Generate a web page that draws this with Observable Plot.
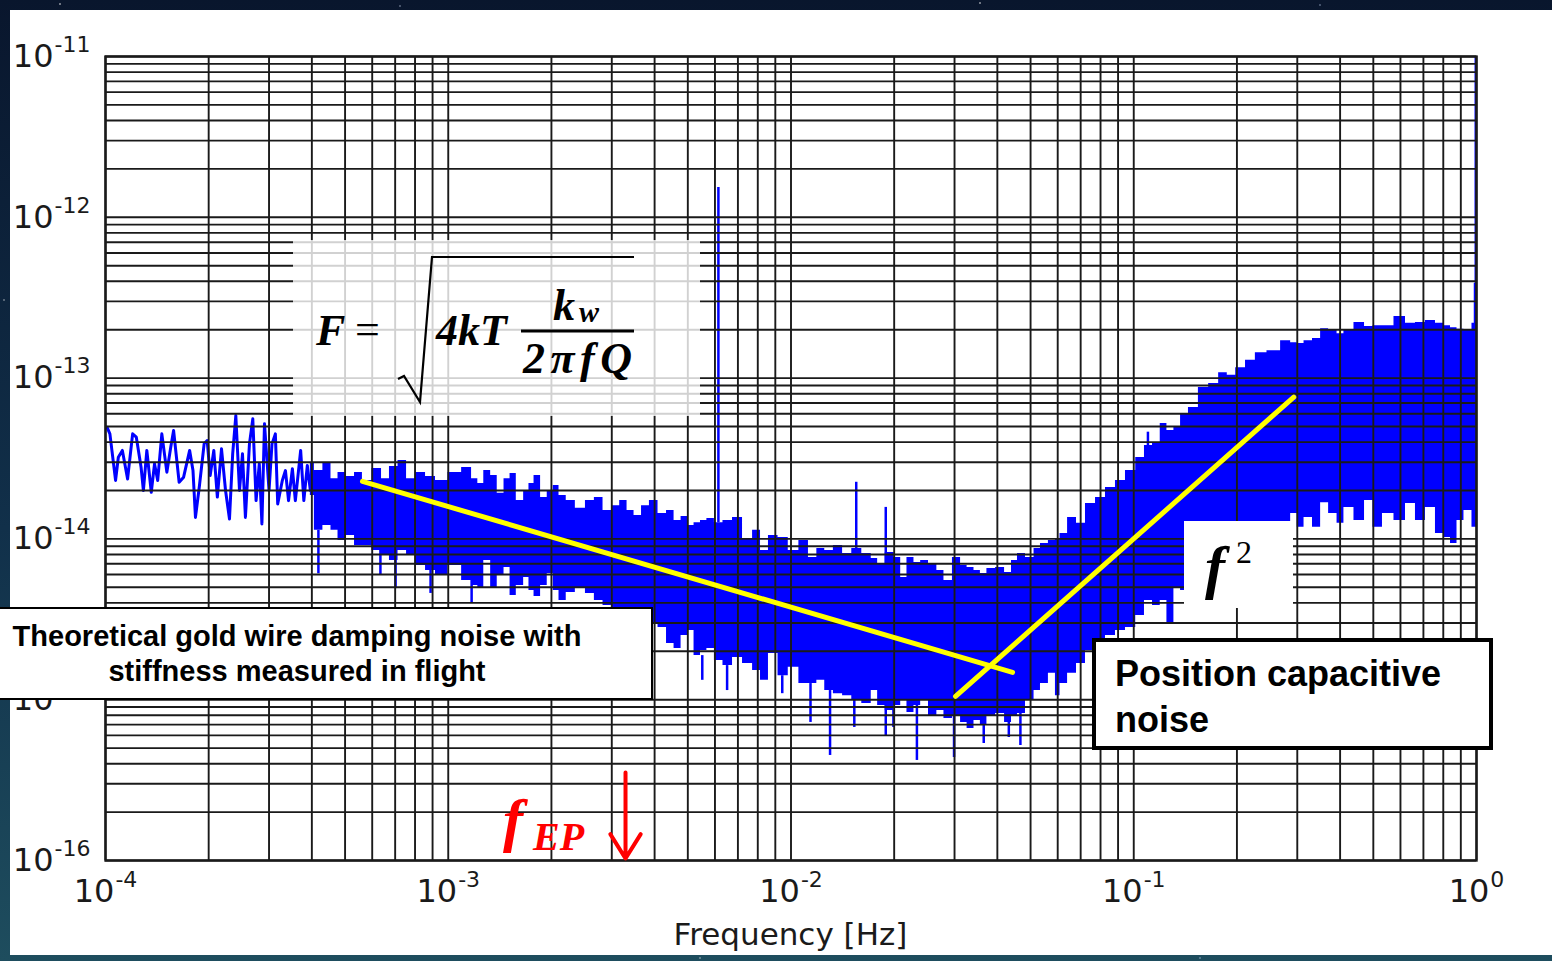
<!DOCTYPE html>
<html>
<head>
<meta charset="utf-8">
<script src="https://cdn.jsdelivr.net/npm/d3@7"></script>
<script src="https://cdn.jsdelivr.net/npm/@observablehq/plot@0.6"></script>
<style>
  html, body { margin: 0; padding: 0; }
  body {
    width: 1552px; height: 961px; position: relative; overflow: hidden;
    background:
      radial-gradient(1.2px 1.2px at 60px 4px, #fff, transparent),
      radial-gradient(1px 1px at 400px 6px, #dfe8ff, transparent),
      radial-gradient(1.2px 1.2px at 980px 3px, #fff, transparent),
      radial-gradient(1px 1px at 1320px 5px, #cfe0ff, transparent),
      radial-gradient(1px 1px at 4px 300px, #fff, transparent),
      radial-gradient(1px 1px at 5px 620px, #dfe8ff, transparent),
      radial-gradient(1px 1px at 700px 958px, #fff, transparent),
      radial-gradient(1px 1px at 1200px 958px, #cfe0ff, transparent),
      linear-gradient(180deg, #09162d 0%, #11304a 55%, #1e4d5e 100%);
  }
  #panel { position: absolute; left: 10px; top: 10px; width: 1542px; height: 945px; background: #fff; overflow: hidden; }
  #chart { position: absolute; left: -10px; top: -10px; }
  #notes { position: absolute; left: 0; top: 0; pointer-events: none; }
</style>
</head>
<body>
<div id="panel"><div id="chart"></div></div>

<svg id="notes" width="1552" height="961">
  <!-- damping formula -->
  <rect x="293" y="240" width="407" height="176" fill="#fff" fill-opacity="0.8"/>
  <g font-family="Liberation Serif, DejaVu Serif, serif" font-weight="bold" font-style="italic" fill="#000" font-size="44">
    <text x="316" y="345">F</text>
    <text x="355" y="344" font-style="normal" font-weight="normal">=</text>
    <text x="436" y="345">4kT</text>
    <text x="553" y="320">k</text>
    <text x="579" y="322" font-size="30">w</text>
    <text x="523" y="373" textLength="109" lengthAdjust="spacing">2πfQ</text>
  </g>
  <path d="M398 379 L404 376 L420 402 L432 257 L634 257" fill="none" stroke="#000" stroke-width="2.2"/>
  <line x1="521" y1="331" x2="634" y2="331" stroke="#000" stroke-width="3"/>

  <!-- f^2 label -->
  <rect x="1184" y="521" width="109" height="87" fill="#fff"/>
  <text x="1205" y="587" font-family="Liberation Serif, DejaVu Serif, serif" font-weight="bold" font-style="italic" font-size="60">f</text>
  <text x="1236" y="563" font-family="Liberation Serif, DejaVu Serif, serif" font-size="32">2</text>

  <!-- capacitive noise label -->
  <rect x="1094" y="640" width="397" height="108" fill="#fff" stroke="#000" stroke-width="4"/>
  <g font-family="Liberation Sans, Arial, sans-serif" font-weight="bold" font-size="36" fill="#000">
    <text x="1115" y="686">Position capacitive</text>
    <text x="1115" y="732">noise</text>
  </g>

  <!-- gold wire damping label -->
  <rect x="-1" y="608" width="653" height="91" fill="#fff" stroke="#000" stroke-width="2"/>
  <g font-family="Liberation Sans, Arial, sans-serif" font-weight="bold" font-size="29" fill="#000" text-anchor="middle">
    <text x="297" y="646">Theoretical gold wire damping noise with</text>
    <text x="297" y="681">stiffness measured in flight</text>
  </g>

  <!-- EP test frequency -->
  <text x="503" y="840" fill="#ff0000" font-family="Liberation Serif, DejaVu Serif, serif" font-weight="bold" font-style="italic"><tspan font-size="60">f</tspan><tspan font-size="40" dx="10" dy="10">EP</tspan></text>
</svg>

<script>
// Axis ticks (decades)
const xTicks = [1e-4, 1e-3, 1e-2, 1e-1, 1];
const yTicks = [1e-16, 1e-15, 1e-14, 1e-13, 1e-12, 1e-11];

// Low-frequency part of the spectrum, drawn as a line
const lowFreq = [1.01e-4, 1.03e-4, 1.07e-4, 1.09e-4, 1.12e-4, 1.16e-4, 1.20e-4, 1.23e-4, 1.27e-4, 1.29e-4,
  1.32e-4, 1.36e-4, 1.39e-4, 1.42e-4, 1.46e-4, 1.51e-4, 1.55e-4, 1.58e-4, 1.64e-4, 1.69e-4,
  1.76e-4, 1.80e-4, 1.83e-4, 1.88e-4, 1.94e-4, 1.98e-4, 2.02e-4, 2.07e-4, 2.12e-4, 2.18e-4,
  2.24e-4, 2.30e-4, 2.35e-4, 2.40e-4, 2.46e-4, 2.51e-4, 2.56e-4, 2.63e-4, 2.69e-4, 2.75e-4,
  2.81e-4, 2.86e-4, 2.91e-4, 3.00e-4, 3.06e-4, 3.13e-4, 3.18e-4, 3.28e-4, 3.35e-4, 3.42e-4,
  3.51e-4, 3.58e-4, 3.71e-4, 3.79e-4, 3.88e-4, 3.96e-4];
const lowAmp = [4.95e-14, 4.50e-14, 2.31e-14, 3.22e-14, 3.55e-14, 2.36e-14, 4.50e-14, 4.29e-14, 2.79e-14, 2.00e-14,
  3.55e-14, 1.95e-14, 2.93e-14, 2.31e-14, 4.50e-14, 2.60e-14, 3.72e-14, 4.72e-14, 2.25e-14, 2.42e-14,
  3.55e-14, 2.66e-14, 1.36e-14, 2.15e-14, 3.90e-14, 4.09e-14, 2.48e-14, 3.55e-14, 1.82e-14, 3.63e-14,
  2.00e-14, 1.33e-14, 3.38e-14, 5.85e-14, 2.00e-14, 3.38e-14, 1.36e-14, 3.90e-14, 5.58e-14, 1.73e-14,
  2.93e-14, 1.24e-14, 5.20e-14, 2.00e-14, 3.90e-14, 4.50e-14, 1.65e-14, 2.31e-14, 2.66e-14, 1.73e-14,
  2.73e-14, 1.73e-14, 3.55e-14, 1.73e-14, 2.86e-14, 2.00e-14];

// Dense part of the spectrum: upper and lower edge of the noise band
const bandFreq = [3.96e-4, 4.18e-4, 4.44e-4, 4.66e-4, 4.88e-4, 5.19e-4, 5.47e-4, 5.77e-4, 6.22e-4, 6.56e-4,
  6.92e-4, 7.36e-4, 7.76e-4, 8.30e-4, 8.88e-4, 9.49e-4, 1.05e-3, 1.14e-3, 1.20e-3, 1.24e-3,
  1.30e-3, 1.36e-3, 1.42e-3, 1.49e-3, 1.54e-3, 1.62e-3, 1.70e-3, 1.74e-3, 1.82e-3, 1.90e-3,
  1.99e-3, 2.06e-3, 2.15e-3, 2.27e-3, 2.43e-3, 2.60e-3, 2.74e-3, 2.92e-3, 3.08e-3, 3.25e-3,
  3.40e-3, 3.57e-3, 3.76e-3, 3.97e-3, 4.22e-3, 4.45e-3, 4.67e-3, 4.89e-3, 5.09e-3, 5.34e-3,
  5.55e-3, 5.82e-3, 6.14e-3, 6.53e-3, 6.98e-3, 7.47e-3, 7.99e-3, 8.31e-3, 8.89e-3, 9.45e-3,
  1.02e-2, 1.09e-2, 1.16e-2, 1.22e-2, 1.29e-2, 1.37e-2, 1.46e-2, 1.55e-2, 1.67e-2, 1.76e-2,
  1.82e-2, 1.95e-2, 2.05e-2, 2.13e-2, 2.23e-2, 2.34e-2, 2.44e-2, 2.60e-2, 2.73e-2, 2.86e-2,
  3.06e-2, 3.19e-2, 3.34e-2, 3.50e-2, 3.64e-2, 3.82e-2, 4.09e-2, 4.31e-2, 4.49e-2, 4.67e-2,
  5.00e-2, 5.24e-2, 5.45e-2, 5.83e-2, 5.99e-2, 6.20e-2, 6.63e-2, 6.99e-2, 7.48e-2, 8.00e-2,
  8.55e-2, 9.15e-2, 9.78e-2, 0.105, 0.110, 0.117, 0.122, 0.128, 0.134, 0.140,
  0.149, 0.160, 0.171, 0.183, 0.192, 0.205, 0.219, 0.234, 0.256, 0.281,
  0.293, 0.307, 0.321, 0.344, 0.358, 0.383, 0.401, 0.420, 0.459, 0.484,
  0.514, 0.550, 0.600, 0.642, 0.686, 0.734, 0.785, 0.823, 0.857, 0.898,
  0.941, 1.0];
const bandHigh = [2.99e-14, 2.66e-14, 2.99e-14, 2.37e-14, 2.59e-14, 2.44e-14, 2.59e-14, 2.31e-14, 2.74e-14, 2.37e-14,
  2.82e-14, 3.07e-14, 2.37e-14, 2.59e-14, 2.44e-14, 2.31e-14, 2.59e-14, 2.78e-14, 2.37e-14, 2.21e-14,
  2.66e-14, 2.48e-14, 1.92e-14, 2.37e-14, 2.55e-14, 1.73e-14, 2.00e-14, 2.21e-14, 2.48e-14, 1.81e-14,
  2.00e-14, 2.15e-14, 1.86e-14, 1.73e-14, 1.55e-14, 1.73e-14, 1.81e-14, 1.50e-14, 1.61e-14, 1.73e-14,
  1.50e-14, 1.40e-14, 1.61e-14, 1.73e-14, 1.44e-14, 1.50e-14, 1.30e-14, 1.38e-14, 1.21e-14, 1.26e-14,
  1.30e-14, 1.34e-14, 1.26e-14, 1.30e-14, 1.36e-14, 1.00e-14, 1.13e-14, 8.47e-15, 1.05e-14, 1.02e-14,
  8.47e-15, 9.77e-15, 7.66e-15, 8.72e-15, 8.47e-15, 9.10e-15, 8.12e-15, 8.72e-15, 8.12e-15, 7.55e-15,
  7.03e-15, 8.23e-15, 7.66e-15, 5.75e-15, 7.66e-15, 7.13e-15, 7.34e-15, 7.03e-15, 6.36e-15, 5.51e-15,
  7.66e-15, 6.83e-15, 6.64e-15, 6.36e-15, 6.09e-15, 6.55e-15, 6.64e-15, 6.18e-15, 7.34e-15, 8.12e-15,
  7.66e-15, 8.72e-15, 9.36e-15, 9.77e-15, 1.00e-14, 1.08e-14, 1.36e-14, 1.25e-14, 1.66e-14, 1.81e-14,
  2.09e-14, 2.31e-14, 2.66e-14, 3.21e-14, 3.81e-14, 3.92e-14, 5.22e-14, 4.72e-14, 4.93e-14, 6.03e-14,
  6.57e-14, 8.74e-14, 9.26e-14, 1.08e-13, 1.04e-13, 1.16e-13, 1.29e-13, 1.44e-13, 1.48e-13, 1.71e-13,
  1.66e-13, 1.64e-13, 1.71e-13, 1.76e-13, 2.03e-13, 1.98e-13, 1.89e-13, 1.98e-13, 2.22e-13, 2.09e-13,
  2.12e-13, 2.12e-13, 2.42e-13, 2.19e-13, 2.22e-13, 2.28e-13, 2.19e-13, 2.12e-13, 2.06e-13, 2.01e-13,
  1.98e-13, 2.19e-13];
const bandLow = [1.86e-14, 1.13e-14, 1.21e-14, 1.13e-14, 9.77e-15, 1.05e-14, 9.10e-15, 9.10e-15, 8.47e-15, 7.88e-15,
  7.34e-15, 8.47e-15, 7.88e-15, 6.83e-15, 6.36e-15, 5.92e-15, 6.83e-15, 5.51e-15, 5.13e-15, 4.91e-15,
  7.34e-15, 4.91e-15, 5.92e-15, 6.64e-15, 4.45e-15, 5.13e-15, 5.75e-15, 4.78e-15, 4.38e-15, 5.13e-15,
  6.09e-15, 4.78e-15, 4.14e-15, 4.64e-15, 4.99e-15, 4.58e-15, 4.14e-15, 3.85e-15, 3.69e-15, 3.49e-15,
  3.34e-15, 3.20e-15, 3.11e-15, 2.94e-15, 2.81e-15, 2.24e-15, 2.08e-15, 2.51e-15, 2.69e-15, 1.88e-15,
  2.02e-15, 2.08e-15, 1.75e-15, 1.63e-15, 1.83e-15, 1.68e-15, 1.52e-15, 1.32e-15, 1.94e-15, 1.41e-15,
  1.59e-15, 1.26e-15, 1.26e-15, 1.32e-15, 1.14e-15, 1.09e-15, 1.06e-15, 9.89e-16, 9.47e-16, 1.14e-15,
  9.20e-16, 8.57e-16, 9.20e-16, 9.89e-16, 8.33e-16, 9.20e-16, 9.89e-16, 7.86e-16, 8.57e-16, 7.64e-16,
  7.86e-16, 7.22e-16, 6.62e-16, 7.42e-16, 7.01e-16, 7.98e-16, 8.21e-16, 7.22e-16, 7.98e-16, 8.21e-16,
  9.89e-16, 1.14e-15, 1.26e-15, 1.46e-15, 1.06e-15, 1.26e-15, 1.46e-15, 1.68e-15, 2.02e-15, 2.33e-15,
  2.51e-15, 2.69e-15, 2.81e-15, 3.34e-15, 4.14e-15, 3.85e-15, 4.14e-15, 2.98e-15, 4.99e-15, 4.78e-15,
  5.13e-15, 5.92e-15, 6.36e-15, 6.83e-15, 7.34e-15, 8.23e-15, 9.10e-15, 9.77e-15, 1.05e-14, 1.21e-14,
  1.44e-14, 1.18e-14, 1.36e-14, 1.18e-14, 1.68e-14, 1.44e-14, 1.25e-14, 1.57e-14, 1.30e-14, 1.73e-14,
  1.18e-14, 1.44e-14, 1.30e-14, 1.66e-14, 1.30e-14, 1.57e-14, 1.08e-14, 1.02e-14, 9.36e-15, 1.30e-14,
  1.50e-14, 1.18e-14];

// Narrow lines rising above the band
const peakFreq = [6.14e-3, 1.55e-2, 1.89e-2, 0.110, 0.990, 0.995];
const peakBase = [1.26e-14, 8.72e-15, 7.03e-15, 3.81e-14, 2.06e-13, 2.19e-13];
const peakTop = [1.53e-12, 2.25e-14, 1.57e-14, 4.61e-14, 3.88e-13, 1e-11];

// Narrow dips below the band
const dipFreq = [4.18e-4, 6.34e-4, 7.02e-4, 8.88e-4, 1.17e-3, 5.51e-3, 6.51e-3, 9.43e-3, 1.14e-2,
  1.30e-2, 1.53e-2, 1.89e-2, 1.99e-2, 2.33e-2, 2.99e-2, 3.65e-2, 4.32e-2, 4.67e-2];
const dipBase = [1.13e-14, 8.47e-15, 7.34e-15, 6.36e-15, 5.51e-15, 1.88e-15, 1.63e-15, 1.41e-15, 1.26e-15,
  1.14e-15, 9.89e-16, 9.20e-16, 8.57e-16, 9.20e-16, 7.86e-16, 7.01e-16, 7.22e-16, 8.21e-16];
const dipBottom = [6.07e-15, 5.92e-15, 4.91e-15, 4.58e-15, 3.97e-15, 1.32e-15, 1.14e-15, 1.09e-15, 7.22e-16,
  4.50e-16, 6.72e-16, 5.99e-16, 6.72e-16, 4.19e-16, 4.37e-16, 5.34e-16, 5.82e-16, 5.19e-16];

// Model lines: gold wire damping noise and f^2 capacitive position noise
const dampingFreq = [5.62e-4, 4.43e-2];
const dampingAmp = [2.28e-14, 1.48e-15];
const capacitiveFreq = [3.02e-2, 0.293];
const capacitiveAmp = [1.05e-15, 7.61e-14];

// EP test frequency marker
const fEP = 3.29e-3;
const fEPArrow = [3.53e-16, 1.03e-16];

const low = lowFreq.map((f, i) => ({f, a: lowAmp[i]}));
const band = bandFreq.map((f, i) => ({f, hi: bandHigh[i], lo: bandLow[i]}));
const peaks = peakFreq.map((f, i) => ({f, base: peakBase[i], top: peakTop[i]}));
const dips = dipFreq.map((f, i) => ({f, base: dipBase[i], bottom: dipBottom[i]}));
const damping = dampingFreq.map((f, i) => ({f, a: dampingAmp[i]}));
const capacitive = capacitiveFreq.map((f, i) => ({f, a: capacitiveAmp[i]}));

// Full log grid (1..9 per decade)
const xGrid = d3.scaleLog().domain([xTicks[0], xTicks[xTicks.length - 1]]).ticks();
const yGrid = d3.scaleLog().domain([yTicks[0], yTicks[yTicks.length - 1]]).ticks();

const BLUE = "#0000ff";
const GRID = "#1a1a1a";
const exponentLabel = d => "10^" + Math.round(Math.log10(d));

const chart = Plot.plot({
  width: 1552,
  height: 961,
  marginLeft: 105,
  marginRight: 76,
  marginTop: 56,
  marginBottom: 101,
  style: {background: "transparent", fontFamily: "DejaVu Sans, sans-serif", color: "#1a1a1a", overflow: "visible"},
  x: {type: "log", domain: [1e-4, 1]},
  y: {type: "log", domain: [1e-16, 1e-11]},
  marks: [
    Plot.areaY(band, {x: "f", y1: "lo", y2: "hi", fill: BLUE, curve: "step"}),
    Plot.ruleX(peaks, {x: "f", y1: "base", y2: "top", stroke: BLUE, strokeWidth: 2.5}),
    Plot.ruleX(dips, {x: "f", y1: "bottom", y2: "base", stroke: BLUE, strokeWidth: 2.5}),
    Plot.line(low, {x: "f", y: "a", stroke: BLUE, strokeWidth: 3, strokeLinejoin: "round"}),
    Plot.ruleX(xGrid, {stroke: GRID, strokeWidth: 1.9}),
    Plot.ruleY(yGrid, {stroke: GRID, strokeWidth: 1.9}),
    Plot.frame({stroke: GRID, strokeWidth: 2.4}),
    Plot.line(damping, {x: "f", y: "a", stroke: "#ffff00", strokeWidth: 5}),
    Plot.line(capacitive, {x: "f", y: "a", stroke: "#ffff00", strokeWidth: 5}),
    Plot.arrow([fEP], {x1: d => d, x2: d => d, y1: fEPArrow[0], y2: fEPArrow[1], stroke: "#ff0000", strokeWidth: 4, headLength: 11, headAngle: 64}),
    Plot.axisX(xTicks, {anchor: "bottom", tickSize: 0, tickPadding: 19, fontSize: 32, tickFormat: exponentLabel, label: null}),
    Plot.axisY(yTicks, {anchor: "left", tickSize: 0, tickPadding: 15, fontSize: 32, tickFormat: exponentLabel, label: null})
  ]
});

// Render "10^n" tick labels with a raised exponent
function raiseExponents(svg, label) {
  d3.select(svg).selectAll(`g[aria-label="${label}"] text`).each(function () {
    const t = d3.select(this);
    const [base, exp] = t.text().split("^");
    t.text(null);
    t.append("tspan").text(base);
    t.append("tspan").attr("dx", 1).attr("dy", -15).attr("font-size", 22).text(exp);
  });
}
raiseExponents(chart, "x-axis tick label");
raiseExponents(chart, "y-axis tick label");

d3.select(chart).append("text")
  .attr("x", 790.5).attr("y", 945)
  .attr("text-anchor", "middle")
  .attr("font-size", 31)
  .attr("fill", "#1a1a1a")
  .text("Frequency [Hz]");

document.getElementById("chart").append(chart);
</script>
</body>
</html>
